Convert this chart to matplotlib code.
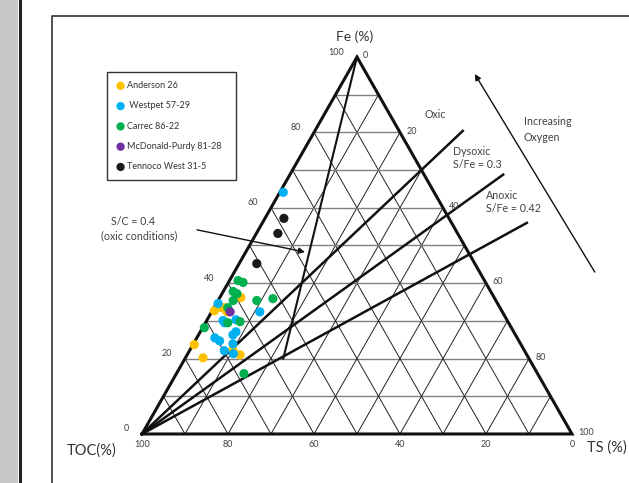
import numpy as np
import matplotlib
matplotlib.use("Agg")
from matplotlib import pyplot as plt
from matplotlib.patches import Rectangle
from matplotlib.lines import Line2D

plt.rcParams['font.family'] = ['Lato', 'DejaVu Sans']

# samples per well: Fe (%) and TS (%), TOC is the remainder
anderson_fe = [36.2, 32.7, 33.5, 33.5, 32.4, 23.7, 22.3, 21.0, 20.2]
anderson_ts = [4.9, 0.5, 1.8, 2.5, 3.6, 0.3, 10.0, 12.3, 4.1]
westpet_fe = [64.1, 34.6, 32.4, 30.1, 29.5, 30.3, 27.1, 26.3, 25.5, 24.7, 23.9, 22.1, 21.3]
westpet_ts = [0.8, 0.4, 11.2, 3.8, 4.5, 6.7, 8.3, 8.0, 4.2, 5.7, 9.2, 8.1, 10.6]
carrec_fe = [40.7, 40.2, 37.8, 37.2, 35.4, 35.4, 35.9, 33.5, 29.5, 29.8, 28.2, 16.0]
carrec_ts = [2.0, 3.4, 2.3, 3.5, 3.5, 9.0, 12.5, 3.2, 5.2, 7.9, 0.4, 15.7]
mcdonald_fe = [32.4]
mcdonald_ts = [4.3]
tennoco_fe = [57.2, 53.2, 45.2]
tennoco_ts = [4.4, 5.0, 4.1]

wells = [
    ('Anderson 26', anderson_fe, anderson_ts, '#FFC000'),
    (' Westpet 57-29', westpet_fe, westpet_ts, '#00B0F0'),
    ('Carrec 86-22', carrec_fe, carrec_ts, '#00B050'),
    ('McDonald-Purdy 81-28', mcdonald_fe, mcdonald_ts, '#7030A0'),
    ('Tennoco West 31-5', tennoco_fe, tennoco_ts, '#1A1A1A'),
]

# S/Fe boundary lines start at the TOC corner, end points given as (Fe, TS)
sfe_ends = [(80.4, 34.4), (68.8, 49.6), (56.0, 61.5)]
# S/C = 0.4 line runs from the Fe corner down to Fe = 20
sc_ratio = 0.4
sc_fe_end = 20.0

tick_values = [0, 20, 40, 60, 80, 100]
H = np.sqrt(3) / 2


def tern(fe, ts):
    fe = np.asarray(fe, dtype=float)
    ts = np.asarray(ts, dtype=float)
    return ts + fe / 2, fe * H


fig = plt.figure(figsize=(6.29, 4.83), dpi=100)
ax = fig.add_axes([0, 0, 1, 1])
ax.set_xlim(-33.02, 113.26)
ax.set_ylim(-11.26, 99.70)
ax.axis('off')

# page furniture: grey margin strip and box frame
fig.patches.append(Rectangle((0, 0), 18 / 629, 1, transform=fig.transFigure,
                             facecolor='#c8c8c8', edgecolor='none', zorder=0))
fig.add_artist(Line2D([19.5 / 629] * 2, [0, 1], transform=fig.transFigure,
                      color='#222222', lw=2.2))
fig.add_artist(Line2D([52 / 629, 52 / 629, 1], [0, 1 - 16 / 483, 1 - 16 / 483],
                      transform=fig.transFigure, color='#333333', lw=1.2))

# 10 % grid
for v in range(10, 100, 10):
    # constant Fe (horizontal)
    x, y = tern([v, v], [0, 100 - v])
    ax.plot(x, y, color='#808080', lw=1.0, zorder=1)
    # constant TS
    x, y = tern([0, 100 - v], [v, v])
    ax.plot(x, y, color='#222222', lw=0.7, zorder=1)
    # constant TOC
    x, y = tern([0, 100 - v], [100 - v, 0])
    ax.plot(x, y, color='#222222', lw=0.7, zorder=1)

# triangle outline
x, y = tern([0, 0, 100, 0], [0, 100, 0, 0])
ax.plot(x, y, color='#111111', lw=2.2, zorder=3, solid_joinstyle='miter')

# S/Fe lines from TOC corner
for fe_end, ts_end in sfe_ends:
    x, y = tern([0, fe_end], [0, ts_end])
    ax.plot(x, y, color='#111111', lw=1.8, zorder=3)

# S/C line from Fe corner
ts_sc = (100 - sc_fe_end) * sc_ratio / (1 + sc_ratio)
x, y = tern([100, sc_fe_end], [0, ts_sc])
ax.plot(x, y, color='#111111', lw=1.5, zorder=3)

# samples
for name, fe, ts, col in wells:
    x, y = tern(fe, ts)
    ax.scatter(x, y, s=44, color=col, edgecolors='none', zorder=5, label=name)

# tick labels
tick_kw = dict(textcoords='offset points', fontsize=6.5, color='#404040')
for v in tick_values:
    # Fe on left edge
    x, y = tern(v, 0)
    ax.annotate(str(v), (x, y), xytext=(-9.5, 3.6), ha='right', va='center', **tick_kw)
    # TS on right edge
    x, y = tern(100 - v, v)
    ax.annotate(str(v), (x, y), xytext=(4.5, 1.0), ha='left', va='center', **tick_kw)
    # TOC on base
    x, y = tern(0, 100 - v)
    ax.annotate(str(v), (x, y), xytext=(0, -7.5), ha='center', va='center', **tick_kw)

# corner titles
ax.text(49.5, 91.2, 'Fe (%)', fontsize=10, color='#333333', ha='center', va='center')
ax.text(-11.6, -3.7, 'TOC(%)', fontsize=10.5, color='#333333', ha='center', va='center')
ax.text(108.1, -3.2, 'TS (%)', fontsize=10.5, color='#333333', ha='center', va='center')

# zone labels
lab_kw = dict(fontsize=7.7, color='#404040', va='center')
ax.text(65.8, 73.5, 'Oxic', ha='left', **lab_kw)
ax.text(72.3, 65.0, 'Dysoxic', ha='left', **lab_kw)
ax.text(72.3, 62.0, 'S/Fe = 0.3', ha='left', **lab_kw)
ax.text(80.0, 54.7, 'Anoxic', ha='left', **lab_kw)
ax.text(80.0, 51.7, 'S/Fe = 0.42', ha='left', **lab_kw)
ax.text(88.8, 71.7, 'Increasing', ha='left', **lab_kw)
ax.text(88.8, 68.2, 'Oxygen', ha='left', **lab_kw)
ax.text(-2.1, 48.9, 'S/C = 0.4', ha='center', **lab_kw)
ax.text(-0.7, 45.5, '(oxic conditions)', ha='center', **lab_kw)

arrow_kw = dict(arrowstyle='-|>', color='#111111', lw=1.0, mutation_scale=9,
                shrinkA=0, shrinkB=0)
ax.annotate('', xy=(37.9, 41.8), xytext=(12.8, 46.9), arrowprops=arrow_kw, zorder=6)
ax.annotate('', xy=(77.4, 82.7), xytext=(105.3, 37.2), arrowprops=arrow_kw, zorder=6)

leg = ax.legend(loc='upper left', bbox_to_anchor=(107 / 629, 1 - 77 / 483, 129 / 629, 0.01),
                bbox_transform=fig.transFigure, mode='expand', fontsize=6.5,
                frameon=True, fancybox=False, edgecolor='#333333', framealpha=1,
                labelspacing=1.25, handletextpad=0.2, borderpad=1.0,
                handlelength=1.0, scatterpoints=1, markerscale=0.9, borderaxespad=0)
leg.get_frame().set_linewidth(1.0)
for t in leg.get_texts():
    t.set_color('#333333')

fig.savefig('out.png', dpi=100)
